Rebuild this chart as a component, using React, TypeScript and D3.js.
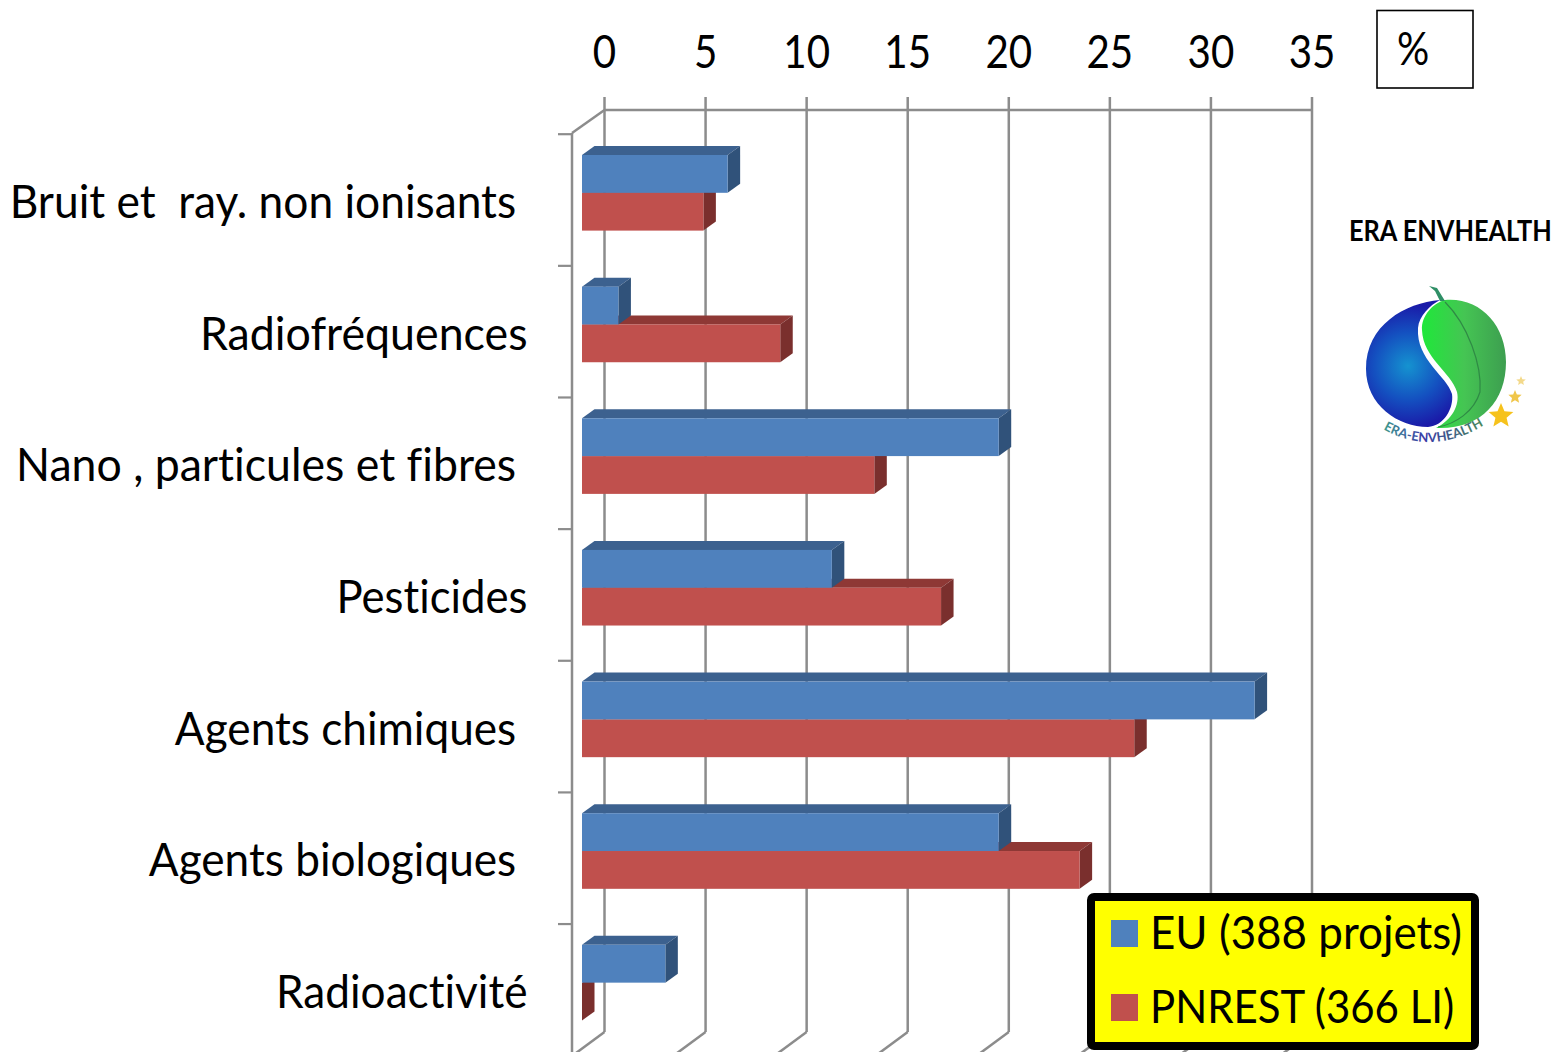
import React from "react";
import * as d3 from "d3";

const categories = [
  "Bruit et  ray. non ionisants ",
  "Radiofréquences",
  "Nano , particules et fibres ",
  "Pesticides",
  "Agents chimiques ",
  "Agents biologiques ",
  "Radioactivité",
];
const euValues = [7.2, 1.8, 20.6, 12.35, 33.25, 20.6, 4.12];
const pnrestValues = [6.0, 9.8, 14.45, 17.75, 27.3, 24.6, 0];
const xTicks = [0, 5, 10, 15, 20, 25, 30, 35];
const seriesNames = ["EU (388 projets)", "PNREST (366 LI)"];
const unitLabel = "%";
const brandLabel = "ERA ENVHEALTH";
const logoLabel = "ERA-ENVHEALTH";

const FONT = "Lato, 'Open Sans', sans-serif";
const GRID = "#8c8c8c";
const BLUE = { front: "#4f81bd", top: "#3c618f", side: "#30527a" };
const RED = { front: "#c0504d", top: "#8e3835", side: "#7a2f2d" };
const labelStretch = [0.963, 0.972, 0.97, 0.95, 0.96, 0.96, 0.96];
const legendStretch = [0.955, 0.912];

const backX = d3.scaleLinear().domain([0, 35]).range([604.5, 1312]);
const barX = d3.scaleLinear().domain([0, 35]).range([582, 1290]);
const bandY = d3.scaleBand<number>().domain(d3.range(categories.length)).range([133, 1054.5]);
const DX = 12.5;
const DY = 9;
const BAR_H = 37.8;
const BAR_TOP = 22;

const poly = (pts: [number, number][]) => {
  const p = d3.path();
  pts.forEach(([x, y], i) => (i ? p.lineTo(x, y) : p.moveTo(x, y)));
  p.closePath();
  return p.toString();
};

function Bar({ v, y, c }: { v: number; y: number; c: typeof BLUE }) {
  const l = barX(0);
  const r = barX(v);
  return (
    <g>
      <path d={poly([[l, y], [l + DX, y - DY], [r + DX, y - DY], [r, y]])} fill={c.top} />
      <path d={poly([[r, y], [r + DX, y - DY], [r + DX, y + BAR_H - DY], [r, y + BAR_H]])} fill={c.side} />
      {v > 0 && <rect x={l} y={y} width={r - l} height={BAR_H} fill={c.front} />}
    </g>
  );
}

function Txt({ x, y, anchor, size, children, weight, sx = 0.96 }: any) {
  return (
    <text
      transform={`translate(${x},${y}) scale(${sx},1)`}
      textAnchor={anchor}
      fontSize={size}
      fontWeight={weight}
      fontFamily={FONT}
      fill="#000"
      style={{ whiteSpace: "pre", fontVariantLigatures: "none" }}
    >
      {children}
    </text>
  );
}

function Star({ cx, cy, r, fill }: { cx: number; cy: number; r: number; fill: string }) {
  const pts: [number, number][] = d3.range(10).map((i) => {
    const a = (i * Math.PI) / 5 - Math.PI / 2;
    const rr = i % 2 ? r * 0.45 : r;
    return [cx + rr * Math.cos(a), cy + rr * Math.sin(a)];
  });
  return <path d={poly(pts)} fill={fill} />;
}

function Logo() {
  return (
    <g>
      <defs>
        <radialGradient id="lb" gradientUnits="userSpaceOnUse" cx="1408" cy="366" r="62">
          <stop offset="0" stopColor="#1593d0" />
          <stop offset="0.55" stopColor="#1450c0" />
          <stop offset="1" stopColor="#1a1aa8" />
        </radialGradient>
        <linearGradient id="lg" x1="0" x2="1" y1="0" y2="0">
          <stop offset="0" stopColor="#1fe83a" />
          <stop offset="0.5" stopColor="#45c553" />
          <stop offset="1" stopColor="#3d9e50" />
        </linearGradient>
        <linearGradient id="lt" gradientUnits="userSpaceOnUse" x1="1384" x2="1484" y1="0" y2="0">
          <stop offset="0" stopColor="#3f9a8c" />
          <stop offset="0.4" stopColor="#3a3aa8" />
          <stop offset="1" stopColor="#4a8a5a" />
        </linearGradient>
        <path id="arcT" d="M1381,428 Q1432,458 1486,424" />
      </defs>
      <path d="M1440,300 C1405,303 1366,325 1366,369 C1366,405 1398,427 1428,427 C1444,426 1454,408 1452,394 C1447,376 1416,360 1418,328 C1419,316 1430,305 1440,300 Z" fill="url(#lb)" />
      <path d="M1445,300 C1433,303 1421,316 1422,330 C1423,358 1451,372 1457,392 C1460,405 1452,420 1436,428 C1480,430 1506,402 1506,362 C1506,325 1480,297 1445,300 Z" fill="url(#lg)" />
      <path d="M1445,302 C1468,325 1482,365 1480,392 C1474,412 1455,424 1438,427" fill="none" stroke="#2f8a45" strokeWidth="1.2" />
      <path d="M1429,286 L1437,288 L1445,301 L1440,301 L1435,291 Z" fill="#2f8f66" />
      <Star cx={1501} cy={416} r={13} fill="#f6c21c" />
      <Star cx={1515} cy={397} r={7} fill="#f0c64a" />
      <Star cx={1521} cy={381} r={5} fill="#f3d98a" />
      <text fontFamily={FONT} fontWeight="700" fontSize="13" fill="url(#lt)">
        <textPath href="#arcT" startOffset="50%" textAnchor="middle">{logoLabel}</textPath>
      </text>
    </g>
  );
}

export default function App() {
  const gridBottom = 1032;
  const backLeft = backX(0);
  const frontLeft = 572;
  const shift = backLeft - frontLeft;
  return (
    <svg width={1554} height={1052} style={{ position: "absolute", left: 0, top: 0, display: "block", background: "#fff" }}>
      {xTicks.map((t) => (
        <g key={t}>
          <line x1={backX(t)} x2={backX(t)} y1={97} y2={gridBottom} stroke={GRID} strokeWidth={2.5} />
          <line x1={backX(t)} x2={backX(t) - shift} y1={gridBottom} y2={gridBottom + 24} stroke={GRID} strokeWidth={2.5} />
          <Txt x={backX(t)} y={68} anchor="middle" size={46} sx={0.875}>{t}</Txt>
        </g>
      ))}
      <line x1={backLeft} x2={backX(35)} y1={110} y2={110} stroke={GRID} strokeWidth={2.5} />
      <line x1={frontLeft} x2={backLeft} y1={133} y2={110} stroke={GRID} strokeWidth={2.5} />
      <line x1={frontLeft} x2={frontLeft} y1={133} y2={1052} stroke={GRID} strokeWidth={2.5} />
      {categories.map((c, i) => {
        const y0 = bandY(i)!;
        const y = y0 + BAR_TOP;
        return (
          <g key={c}>
            <line x1={558} x2={frontLeft} y1={y0 + 1.2} y2={y0 + 1.2} stroke={GRID} strokeWidth={2.2} />
            <Bar v={pnrestValues[i]} y={y + BAR_H} c={RED} />
            <Bar v={euValues[i]} y={y} c={BLUE} />
            <Txt x={527.5} y={y0 + 85} anchor="end" size={46} sx={labelStretch[i]}>{c}</Txt>
          </g>
        );
      })}

      <rect x={1377} y={10.5} width={96} height={77.5} fill="#fff" stroke="#000" strokeWidth={1.6} />
      <Txt x={1397} y={65} anchor="start" size={46} sx={0.875}>{unitLabel}</Txt>

      <Txt x={1349} y={241} anchor="start" size={28} weight={700} sx={0.905}>{brandLabel}</Txt>
      <Logo />

      <rect x={1091} y={897} width={384} height={149} rx={3} fill="#ffff00" stroke="#000" strokeWidth={8} />
      {seriesNames.map((s, i) => (
        <g key={s}>
          <rect x={1111} y={920 + i * 74} width={27} height={27} fill={i ? RED.front : BLUE.front} />
          <Txt x={1150} y={949 + i * 74} anchor="start" size={46} sx={legendStretch[i]}>{s}</Txt>
        </g>
      ))}
    </svg>
  );
}
